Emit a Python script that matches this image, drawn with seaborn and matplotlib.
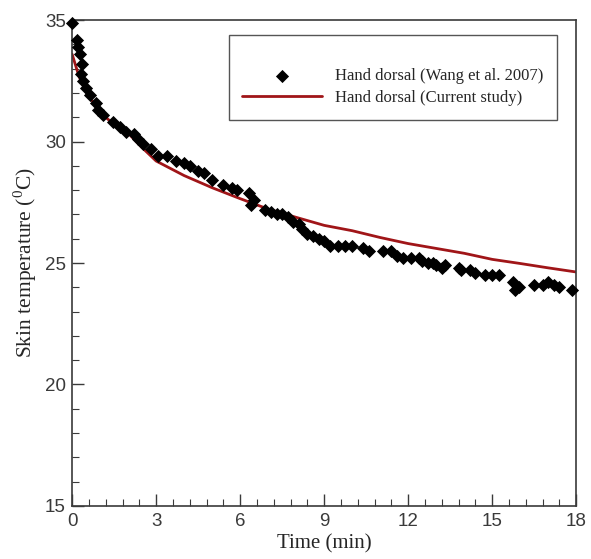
# 手背皮肤温度随时间变化：实验数据与本研究模拟结果对比
import numpy as np
import pandas as pd
import matplotlib
matplotlib.use('Agg')
import matplotlib.pyplot as plt
from matplotlib.ticker import MultipleLocator
import seaborn as sns

# 实验数据 (Wang et al. 2007)
time_exp = [0.0, 0.18, 0.2, 0.29, 0.36, 0.32, 0.4, 0.5, 0.64, 0.85, 0.93, 1.1, 1.46, 1.7, 1.93,
            2.2, 2.36, 2.54, 2.8, 3.07, 3.4, 3.7, 4.0, 4.2, 4.5, 4.7, 5.0, 5.4, 5.7, 5.9,
            6.3, 6.4, 6.5, 6.9, 7.1, 7.3, 7.5, 7.7, 7.9, 8.1, 8.2, 8.4, 8.6, 8.8, 9.0,
            9.2, 9.5, 9.75, 10.0, 10.4, 10.6, 11.1, 11.4, 11.6, 11.8, 12.1, 12.4, 12.5, 12.7,
            12.9, 13.0, 13.2, 13.3, 13.8, 13.9, 14.2, 14.4, 14.75, 15.0, 15.25, 15.75, 15.8,
            15.96, 16.5, 16.8, 17.0, 17.2, 17.4, 17.86]
temp_exp = [34.9, 34.2, 33.9, 33.6, 33.2, 32.8, 32.5, 32.2, 31.9, 31.6, 31.3, 31.1, 30.8, 30.6, 30.4,
            30.3, 30.1, 29.9, 29.7, 29.4, 29.4, 29.2, 29.1, 29.0, 28.8, 28.7, 28.4, 28.2, 28.1, 28.0,
            27.9, 27.4, 27.6, 27.2, 27.1, 27.0, 27.0, 26.9, 26.7, 26.6, 26.4, 26.2, 26.1, 26.0, 25.9,
            25.7, 25.7, 25.7, 25.7, 25.6, 25.5, 25.5, 25.5, 25.3, 25.2, 25.2, 25.2, 25.1, 25.0,
            25.0, 24.9, 24.8, 24.9, 24.8, 24.7, 24.7, 24.6, 24.5, 24.5, 24.5, 24.2, 23.9,
            24.0, 24.1, 24.1, 24.2, 24.1, 24.0, 23.9]

# 本研究模拟结果
time_model = [0, 0.25, 0.5, 1, 1.5, 2, 2.5, 3, 4, 5, 6, 7, 8, 9, 10, 11, 12, 13, 14, 15, 16, 17, 18]
temp_model = [33.6, 32.67, 32.05, 31.2, 30.7, 30.35, 29.75, 29.2, 28.6, 28.1, 27.65, 27.22, 26.88,
              26.55, 26.33, 26.05, 25.8, 25.6, 25.4, 25.15, 24.98, 24.8, 24.63]

df_exp = pd.DataFrame({'t': time_exp, 'T': temp_exp})
df_model = pd.DataFrame({'t': time_model, 'T': temp_model})

sns.set_style('ticks')
plt.rcParams['font.family'] = ['Liberation Sans', 'DejaVu Sans']
plt.rcParams['mathtext.fontset'] = 'custom'
plt.rcParams['mathtext.rm'] = 'Liberation Serif'

fig = plt.figure(figsize=(5.91, 5.59), dpi=100)
ax = fig.add_axes([0.122, 0.095, 0.853, 0.869])

sns.scatterplot(data=df_exp, x='t', y='T', marker='D', s=45, color='black',
                linewidth=0, ax=ax, label='Hand dorsal (Wang et al. 2007)', zorder=3,
                clip_on=False)
sns.lineplot(data=df_model, x='t', y='T', color='#a01518', linewidth=2, ax=ax,
             label='Hand dorsal (Current study)', zorder=2)

ax.set_xlim(0, 18)
ax.set_ylim(15, 35)
ax.xaxis.set_major_locator(MultipleLocator(3))
ax.xaxis.set_minor_locator(MultipleLocator(0.6))
ax.yaxis.set_major_locator(MultipleLocator(5))
ax.yaxis.set_minor_locator(MultipleLocator(1))

grey = '#3a3a3a'
for sp in ax.spines.values():
    sp.set_color(grey)
    sp.set_linewidth(1.2)
ax.tick_params(which='major', direction='in', length=8.5, width=1, colors=grey,
               labelsize=13.5)
ax.tick_params(axis='x', which='major', pad=5)
ax.tick_params(axis='y', which='major', pad=4.5)
ax.tick_params(which='minor', direction='in', length=5, width=0.8, colors=grey)
ax.tick_params(top=False, right=False, which='both')

ax.set_xlabel('Time (min)', family='Liberation Serif', fontsize=15, labelpad=3)
ax.set_ylabel(r'Skin temperature ($^{0}$C)', family='Liberation Serif', fontsize=15.5,
              labelpad=4)

leg = ax.legend(loc='upper right', bbox_to_anchor=(0.962, 0.969), title=' ',
                prop={'family': 'Liberation Serif', 'size': 12}, frameon=True,
                fancybox=False, framealpha=1, borderpad=0.8, labelspacing=0.35,
                handlelength=4.8, handletextpad=0.8, borderaxespad=0)
leg.get_frame().set_edgecolor('#555555')
leg.get_frame().set_linewidth(1)

plt.savefig('out.png', dpi=100)
